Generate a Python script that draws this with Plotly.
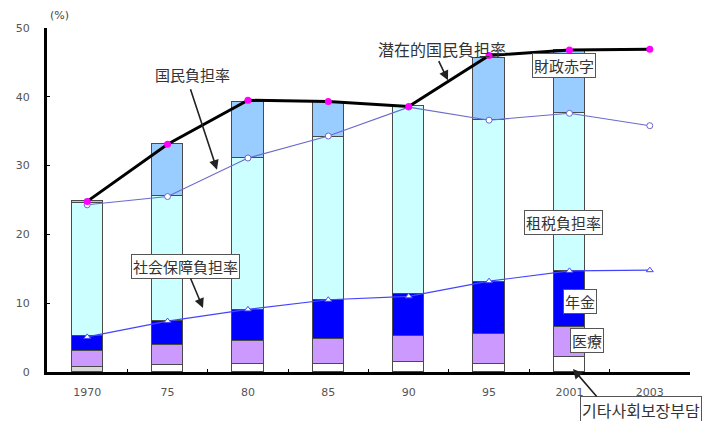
import plotly.graph_objects as go

# ---- data ----
years = ["1970", "75", "80", "85", "90", "95", "2001", "2003"]
bar_years = years[:7]

other_ss = [0.8, 1.0, 1.2, 1.1, 1.5, 1.2, 2.2]        # その他社会保障負担
medical = [2.25, 2.9, 3.3, 3.65, 3.7, 4.3, 4.4]       # 医療
pension = [2.25, 3.5, 4.5, 5.65, 6.1, 7.6, 8.1]       # 年金
tax = [19.3, 18.2, 22.1, 23.8, 27.3, 23.5, 22.9]      # 租税負担率
deficit = [0.3, 7.6, 8.2, 5.1, 0.0, 9.0, 9.2]         # 財政赤字

potential_burden = [24.8, 33.1, 39.5, 39.3, 38.6, 46.0, 46.8, 46.9]  # 潜在的国民負担率
national_burden = [24.3, 25.5, 31.1, 34.3, 38.5, 36.6, 37.6, 35.8]   # 国民負担率
social_security = [5.1, 7.4, 9.1, 10.5, 11.0, 13.2, 14.7, 14.8]      # 社会保障負担率

xi = list(range(len(years)))
xb = xi[:7]

fig = go.Figure()

outline = dict(color="#4a4a4a", width=1.5)
bw = 0.39
fig.add_bar(x=xb, y=other_ss, width=bw, name="その他",
            marker=dict(color=["#d9d9d9"] + ["#ffffff"] * 6, line=outline))
fig.add_bar(x=xb, y=medical, width=bw, name="医療",
            marker=dict(color="#cc99ff", line=outline))
fig.add_bar(x=xb, y=pension, width=bw, name="年金",
            marker=dict(color="#0000ff", line=outline))
fig.add_bar(x=xb, y=tax, width=bw, name="租税負担率",
            marker=dict(color="#ccffff", line=outline))
fig.add_bar(x=xb, y=deficit, width=bw, name="財政赤字",
            marker=dict(color="#99ccff", line=outline))

fig.add_scatter(x=xi, y=national_burden, mode="lines+markers", name="国民負担率",
                line=dict(color="#6a6acc", width=1.1),
                marker=dict(symbol="circle", size=6, color="white",
                            line=dict(color="#6a6acc", width=1)))
fig.add_scatter(x=xi, y=social_security, mode="lines+markers", name="社会保障負担率",
                line=dict(color="#4444ff", width=1.2),
                marker=dict(symbol="triangle-up", size=6, color="white",
                            line=dict(color="#4444ff", width=1)))
fig.add_scatter(x=xi, y=potential_burden, mode="lines+markers", name="潜在的国民負担率",
                line=dict(color="black", width=3),
                marker=dict(symbol="circle", size=7, color="#ff00ff"))

jp = "Noto Sans CJK JP"
kr = "Noto Sans CJK KR"
FS = 15

annotations = []


def text(x, y, t, box=False, fam=jp, ref="x", size=FS):
    a = dict(x=x, y=y, xref="x" if ref == "x" else "paper",
             yref="y" if ref == "x" else "paper", text=t, showarrow=False,
             xanchor="center", yanchor="middle",
             font=dict(family=fam, size=size, color="#333333"))
    if box:
        a.update(bgcolor="white", bordercolor="#555555", borderwidth=1, borderpad=1)
    annotations.append(a)


def arrow(x0, y0, x1, y1):
    annotations.append(dict(x=x1, y=y1, ax=x0, ay=y0, xref="x", yref="y",
                            axref="x", ayref="y", text="", showarrow=True,
                            arrowhead=2, arrowsize=1.2, arrowwidth=1.6,
                            arrowcolor="#222222", standoff=0, startstandoff=0))


text(1.316, 43.2, "国民負担率")
arrow(1.279, 41.3, 1.615, 29.4)
text(4.414, 47.0, "潜在的国民負担率", size=16)
arrow(4.365, 45.4, 4.489, 42.4)
text(5.932, 44.5, "財政赤字", box=True)
text(5.932, 21.8, "租税負担率", box=True)
text(6.131, 10.2, "年金", box=True)
text(6.219, 4.65, "医療", box=True)
text(1.217, 15.3, "社会保障負担率", box=True)
arrow(1.279, 13.8, 1.441, 9.3)
text(0.924, -0.110, "기타사회보장부담", box=True, fam=kr, ref="paper", size=16)
arrow(6.355, -3.78, 6.044, 0.44)
annotations.append(dict(x=0.0187, y=1.035, xref="paper", yref="paper", text="(%)",
                        showarrow=False, xanchor="center", yanchor="middle",
                        font=dict(family="DejaVu Sans", size=11, color="#444444")))

tickfont = dict(family="DejaVu Sans", size=11, color="#555555")

fig.update_layout(
    width=709, height=421,
    margin=dict(l=47, r=19, t=28, b=49),
    barmode="stack",
    bargap=0,
    showlegend=False,
    plot_bgcolor="white",
    paper_bgcolor="white",
    annotations=annotations,
    xaxis=dict(range=[-0.5, 7.5], tickmode="array", tickvals=xi, ticktext=years,
               showgrid=False, zeroline=False, showline=True, linecolor="black",
               linewidth=3, ticks="", ticklabelstandoff=8,
               tickfont=tickfont,
               minor=dict(tickmode="array", tickvals=[v + 0.5 for v in xi[:-1]],
                          ticks="inside", ticklen=3, tickcolor="black")),
    yaxis=dict(range=[0, 50], tickmode="array", tickvals=[0, 10, 20, 30, 40, 50],
               showgrid=False, zeroline=False, showline=True, linecolor="black",
               linewidth=3, ticks="inside", ticklen=3, tickcolor="black",
               ticklabelstandoff=12,
               tickfont=tickfont),
)

fig.write_html("out.html")
